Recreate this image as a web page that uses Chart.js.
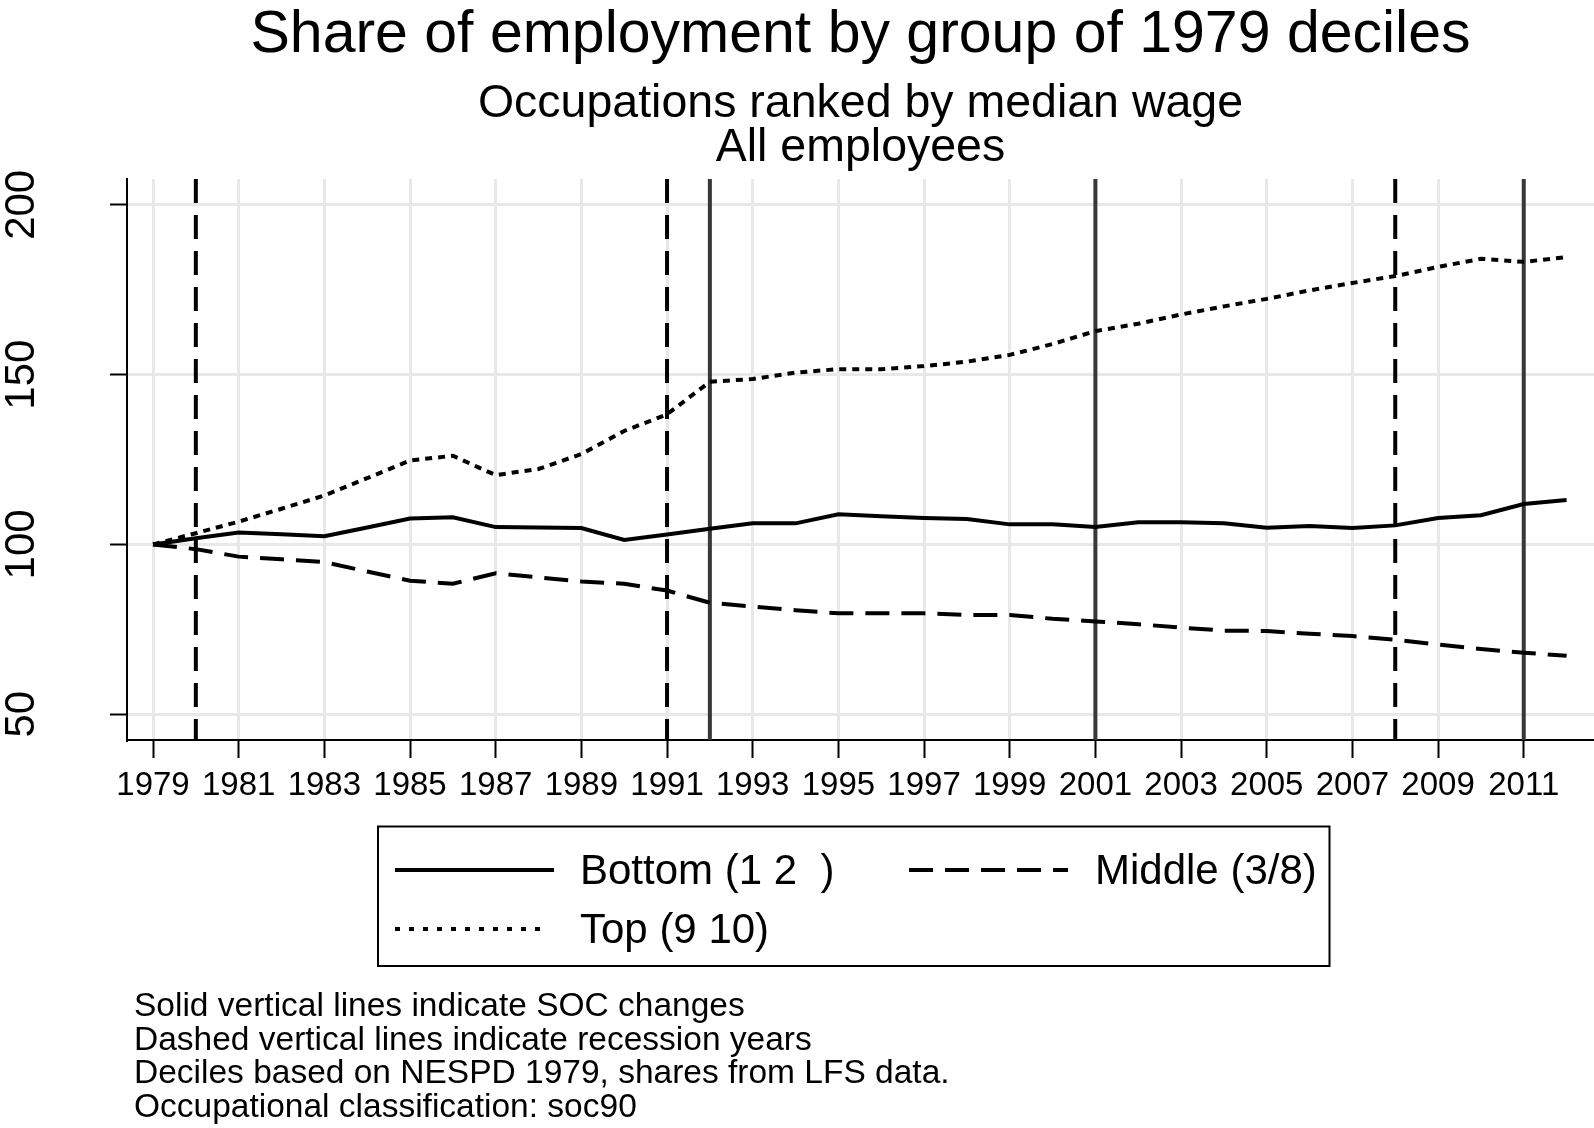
<!DOCTYPE html>
<html>
<head>
<meta charset="utf-8">
<script src="https://cdn.jsdelivr.net/npm/chart.js@4.4.1/dist/chart.umd.min.js"></script>
<style>
  html, body { margin: 0; padding: 0; background: #fff; }
  canvas { display: block; }
</style>
</head>
<body>
<canvas id="chart" width="1594" height="1128"></canvas>
<script>
// data (index, 1979 = 100)
const years = [1979, 1980, 1981, 1982, 1983, 1984, 1985, 1986, 1987, 1988, 1989, 1990,
    1991, 1992, 1993, 1994, 1995, 1996, 1997, 1998, 1999, 2000, 2001, 2002,
    2003, 2004, 2005, 2006, 2007, 2008, 2009, 2010, 2011, 2012];
const bottom = [100, 101.8, 103.5, 103.0, 102.4, 105.0, 107.6, 108.0, 105.1, 105.0, 104.8, 101.3,
    102.9, 104.6, 106.2, 106.2, 108.9, 108.3, 107.8, 107.5, 105.9, 105.9, 105.1, 106.5,
    106.5, 106.2, 104.9, 105.4, 104.8, 105.6, 107.8, 108.6, 111.9, 113.1];
const middle = [100, 98.6, 96.4, 95.6, 94.8, 92.0, 89.3, 88.4, 91.5, 90.3, 89.1, 88.4,
    86.4, 82.8, 81.7, 80.6, 79.7, 79.7, 79.7, 79.2, 79.2, 78.1, 77.3, 76.5,
    75.5, 74.6, 74.5, 73.7, 73.0, 71.9, 70.5, 69.2, 68.1, 67.2];
const top10 = [100, 103.3, 106.7, 110.5, 114.4, 119.5, 124.7, 126.1, 120.4, 122.2, 126.6, 133.4,
    138.3, 147.9, 148.7, 150.6, 151.6, 151.6, 152.5, 153.8, 155.8, 159.0, 162.8, 165.0,
    167.7, 170.1, 172.3, 174.8, 177.0, 179.0, 181.7, 184.1, 183.2, 184.6];
const seriesLabels = ['Bottom (1 2  )', 'Middle (3/8)', 'Top (9 10)'];

const xTicks = [1979, 1981, 1983, 1985, 1987, 1989, 1991, 1993, 1995, 1997, 1999,
    2001, 2003, 2005, 2007, 2009, 2011];
const yTicks = [50, 100, 150, 200];
const recessionYears = [1980, 1991, 2008];
const socYears = [1992, 2001, 2011];

const titleText = 'Share of employment by group of 1979 deciles';
const subtitleText = ['Occupations ranked by median wage', 'All employees'];
const notes = [
    'Solid vertical lines indicate SOC changes',
    'Dashed vertical lines indicate recession years',
    'Deciles based on NESPD 1979, shares from LFS data.',
    'Occupational classification: soc90'
];

const FONT = "'Liberation Sans', Arial, Helvetica, sans-serif";
const X_MIN = 1978.393, X_MAX = 2012.64;
const Y_MIN = 42.4, Y_MAX = 207.6;

Chart.defaults.font.family = FONT;
Chart.defaults.color = '#000';

const toPoints = vals => years.map((yr, i) => ({ x: yr, y: vals[i] }));

const seriesStyles = [
    { dash: [], legendDash: [] },
    { dash: [24, 12], legendDash: [24, 12] },
    { dash: [7, 6], legendDash: [5, 9] }
];

const series = [bottom, middle, top10].map((vals, i) => ({
    label: seriesLabels[i],
    data: toPoints(vals),
    borderColor: '#000',
    borderWidth: 4,
    borderDash: seriesStyles[i].dash,
    legendDash: seriesStyles[i].legendDash,
    pointRadius: 0,
    tension: 0,
    order: 1
}));

const vline = (yr, dashed) => ({
    label: '',
    marker: true,
    data: [{ x: yr, y: Y_MAX }, { x: yr, y: Y_MIN }],
    borderColor: dashed ? '#000' : '#383838',
    borderWidth: 4,
    borderDash: dashed ? [24, 12] : [],
    pointRadius: 0,
    order: 5
});

const markers = [
    ...recessionYears.map(yr => vline(yr, true)),
    ...socYears.map(yr => vline(yr, false))
];

// legend box and notes below the plot, Stata style
const footerPlugin = {
    id: 'footer',
    afterDraw(chart) {
        const ctx = chart.ctx;
        const ds = chart.data.datasets.filter(d => !d.marker);
        ctx.save();
        ctx.strokeStyle = '#000';
        ctx.lineWidth = 2;
        ctx.strokeRect(378, 826.5, 951.5, 139.5);

        const slots = [
            { x0: 395, x1: 554, tx: 580, y: 870 },
            { x0: 909, x1: 1068, tx: 1095, y: 870 },
            { x0: 395, x1: 545, tx: 580, y: 929 }
        ];
        ds.forEach((d, i) => {
            const s = slots[i];
            ctx.beginPath();
            ctx.setLineDash(d.legendDash || []);
            ctx.lineWidth = 4;
            ctx.moveTo(s.x0, s.y);
            ctx.lineTo(s.x1, s.y);
            ctx.stroke();
            ctx.setLineDash([]);
            ctx.fillStyle = '#000';
            ctx.font = '42px ' + FONT;
            ctx.textBaseline = 'middle';
            ctx.textAlign = 'left';
            ctx.fillText(d.label, s.tx, s.y + 2);
        });

        ctx.font = '33.5px ' + FONT;
        notes.forEach((line, i) => {
            ctx.fillText(line, 134, 1007 + i * 33.6);
        });
        ctx.restore();
    }
};

new Chart(document.getElementById('chart'), {
    type: 'line',
    data: { datasets: [...series, ...markers] },
    options: {
        responsive: false,
        animation: false,
        devicePixelRatio: 1,
        events: [],
        layout: { padding: { top: 0, left: 0, right: 0, bottom: 318 } },
        plugins: {
            legend: { display: false },
            tooltip: { enabled: false },
            title: {
                display: true,
                text: titleText,
                fullSize: false,
                color: '#000',
                font: { size: 59, weight: 'normal', lineHeight: '59px' },
                padding: { top: 6.5, bottom: 0 }
            },
            subtitle: {
                display: true,
                text: subtitleText,
                fullSize: false,
                color: '#000',
                font: { size: 46.5, weight: 'normal', lineHeight: '44px' },
                padding: { top: 17, bottom: 8.5 }
            }
        },
        scales: {
            x: {
                type: 'linear',
                min: X_MIN,
                max: X_MAX,
                afterBuildTicks: scale => { scale.ticks = xTicks.map(v => ({ value: v })); },
                afterFit: scale => { scale.height = 70; },
                grid: { color: '#e8e8e8', lineWidth: 3, tickColor: '#000', tickWidth: 2, tickLength: 18 },
                border: { color: '#000', width: 2 },
                ticks: {
                    autoSkip: false,
                    minRotation: 0,
                    maxRotation: 0,
                    padding: 8,
                    font: { size: 33 },
                    callback: v => String(v)
                }
            },
            y: {
                type: 'linear',
                min: Y_MIN,
                max: Y_MAX,
                afterBuildTicks: scale => { scale.ticks = yTicks.map(v => ({ value: v })); },
                afterFit: scale => { scale.width = 127; },
                grid: { color: '#e8e8e8', lineWidth: 3, tickColor: '#000', tickWidth: 2, tickLength: 17 },
                border: { color: '#000', width: 2 },
                ticks: {
                    minRotation: 90,
                    maxRotation: 90,
                    crossAlign: 'center',
                    padding: 53,
                    font: { size: 42 },
                    callback: v => String(v)
                }
            }
        }
    },
    plugins: [footerPlugin]
});
</script>
</body>
</html>
